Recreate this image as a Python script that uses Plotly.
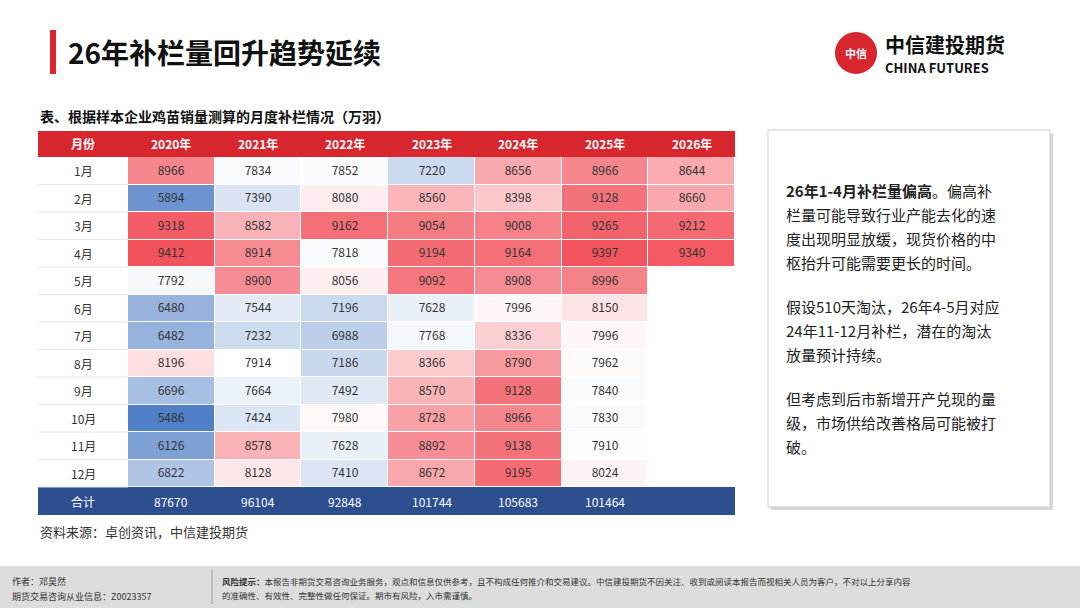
import plotly.graph_objects as go

years = ["2020年", "2021年", "2022年", "2023年", "2024年", "2025年", "2026年"]
months = ["1月", "2月", "3月", "4月", "5月", "6月", "7月", "8月", "9月", "10月", "11月", "12月"]
v2020 = [8966, 5894, 9318, 9412, 7792, 6480, 6482, 8196, 6696, 5486, 6126, 6822]
v2021 = [7834, 7390, 8582, 8914, 8900, 7544, 7232, 7914, 7664, 7424, 8578, 8128]
v2022 = [7852, 8080, 9162, 7818, 8056, 7196, 6988, 7186, 7492, 7980, 7628, 7410]
v2023 = [7220, 8560, 9054, 9194, 9092, 7628, 7768, 8366, 8570, 8728, 8892, 8672]
v2024 = [8656, 8398, 9008, 9164, 8908, 7996, 8336, 8790, 9128, 8966, 9138, 9195]
v2025 = [8966, 9128, 9265, 9397, 8996, 8150, 7996, 7962, 7840, 7830, 7910, 8024]
v2026 = [8644, 8660, 9212, 9340, None, None, None, None, None, None, None, None]
totals = ["87670", "96104", "92848", "101744", "105683", "101464", ""]

W, H = 1080, 608
cols = [v2020, v2021, v2022, v2023, v2024, v2025, v2026]
z = [[c[i] for c in cols] for i in range(12)]
text = [["" if v is None else str(v) for v in row] for row in z]

X0, X1, XM = 38, 735, 128
Y_HEAD, Y_TOP, Y_BOT, Y_TOT = 131, 157, 487, 515
py = lambda p: 1 - p / H
px = lambda p: p / W

fig = go.Figure(go.Heatmap(
    z=z, x=years, y=months, text=text, texttemplate="%{text}",
    textfont=dict(size=12, color="#333"), xgap=1, ygap=1,
    colorscale=[[0, "#4f7fc6"], [0.62, "#ffffff"], [1, "#f2525c"]],
    zmin=5486, zmax=9412, showscale=False, hoverinfo="skip"))

fig.update_layout(
    width=W, height=H, margin=dict(l=0, r=0, t=0, b=0),
    paper_bgcolor="white", plot_bgcolor="white",
    font=dict(family="Noto Sans CJK SC", color="#333"),
    xaxis=dict(domain=[px(XM), px(X1)], visible=False),
    yaxis=dict(domain=[py(Y_BOT), py(Y_TOP)], visible=False, autorange="reversed"),
)

shapes = []
ann = []
def rect(x0, y0, x1, y1, fill, line=None, lw=0):
    shapes.append(dict(type="rect", xref="paper", yref="paper", x0=px(x0), x1=px(x1),
                       y0=py(y1), y1=py(y0), fillcolor=fill,
                       line=dict(color=line or fill, width=lw), layer="below"))
def text_at(x, y, s, size=12, color="#333", xanchor="center", bold=False):
    ann.append(dict(xref="paper", yref="paper", x=px(x), y=py(y), text=f"<b>{s}</b>" if bold else s,
                    showarrow=False, xanchor=xanchor, yanchor="middle",
                    font=dict(size=size, color=color)))

# title
rect(50, 30, 56, 74, "#d7262e")
text_at(66, 52, "26年补栏量回升趋势延续", 28, "#111", "left", True)
# logo
shapes.append(dict(type="circle", xref="paper", yref="paper", x0=px(836), x1=px(876),
                   y0=py(73), y1=py(33), fillcolor="#d7262e", line=dict(color="#d7262e")))
text_at(856, 53, "中信", 11, "white", bold=True)
text_at(883, 44, "中信建投期货", 20, "#111", "left", True)
text_at(883, 67, "CHINA FUTURES", 13, "#111", "left", True)

# table caption
text_at(38, 116, "表、根据样本企业鸡苗销量测算的月度补栏情况（万羽）", 14, "#111", "left", True)
# header
rect(X0, Y_HEAD, X1, Y_TOP, "#d7262e")
text_at((X0 + XM) / 2, (Y_HEAD + Y_TOP) / 2, "月份", 12, "white", bold=True)
cw = (X1 - XM) / 7
for i, yr in enumerate(years):
    text_at(XM + cw * (i + 0.5), (Y_HEAD + Y_TOP) / 2, yr, 12, "white", bold=True)
# months column
rh = (Y_BOT - Y_TOP) / 12
for i, m in enumerate(months):
    text_at((X0 + XM) / 2, Y_TOP + rh * (i + 0.5), m, 12, "#333")
    shapes.append(dict(type="line", xref="paper", yref="paper", x0=px(X0), x1=px(XM),
                       y0=py(Y_TOP + rh * (i + 1)), y1=py(Y_TOP + rh * (i + 1)),
                       line=dict(color="#e4e4e4", width=1)))
# totals
rect(X0, Y_BOT, X1, Y_TOT, "#2e4f8f")
text_at((X0 + XM) / 2, (Y_BOT + Y_TOT) / 2, "合计", 12, "white")
for i, t in enumerate(totals):
    text_at(XM + cw * (i + 0.5), (Y_BOT + Y_TOT) / 2, t, 12, "white")
text_at(38, 531, "资料来源：卓创资讯，中信建投期货", 13, "#333", "left")

# side box
rect(771, 133, 1053, 510, "#d8d8d8")
rect(768, 130, 1050, 507, "white", "#cfcfcf", 1)
lines = [
    (190, "<b>26年1-4月补栏量偏高</b>。偏高补"),
    (214, "栏量可能导致行业产能去化的速"),
    (238, "度出现明显放缓，现货价格的中"),
    (262, "枢抬升可能需要更长的时间。"),
    (306, "假设510天淘汰，26年4-5月对应"),
    (330, "24年11-12月补栏，潜在的淘汰"),
    (354, "放量预计持续。"),
    (398, "但考虑到后市新增开产兑现的量"),
    (422, "级，市场供给改善格局可能被打"),
    (446, "破。"),
]
for y, s in lines:
    text_at(784, y, s, 15, "#222", "left")

# footer
rect(0, 566, 1080, 608, "#dcdcdc")
shapes.append(dict(type="line", xref="paper", yref="paper", x0=px(212), x1=px(212),
                   y0=py(604), y1=py(570), line=dict(color="#999", width=1)))
text_at(10, 581, "作者：邓昊然", 9, "#333", "left")
text_at(10, 596, "期货交易咨询从业信息：Z0023357", 9, "#333", "left")
text_at(220, 581, "<b>风险提示：</b>本报告非期货交易咨询业务服务，观点和信息仅供参考，且不构成任何推介和交易建议。中信建投期货不因关注、收到或阅读本报告而视相关人员为客户，不对以上分享内容", 8.5, "#333", "left")
text_at(220, 595, "的准确性、有效性、完整性做任何保证。期市有风险，入市需谨慎。", 8.5, "#333", "left")

fig.update_layout(shapes=shapes, annotations=ann)
fig.write_html("out.html", config={"displayModeBar": False},
               post_script="document.body.style.margin='0';")
